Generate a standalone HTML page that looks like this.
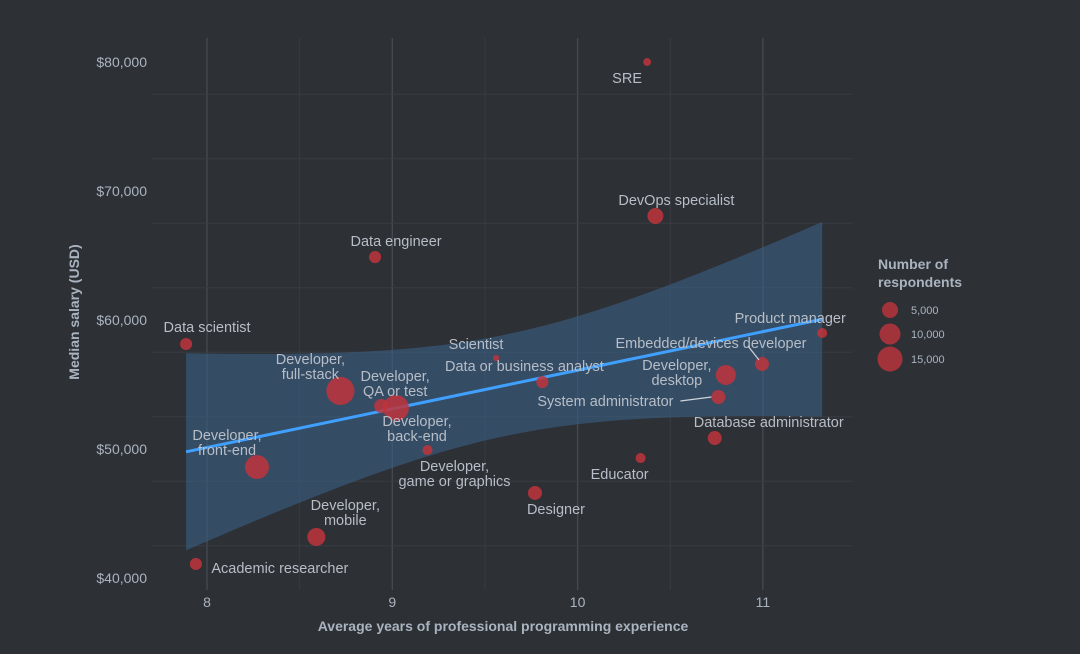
<!DOCTYPE html>
<html><head><meta charset="utf-8"><style>
body{margin:0;background:#2d3035;}
svg{display:block;font-family:"Liberation Sans",sans-serif;}
</style></head><body>
<svg id="chart" width="1080" height="654">
<rect width="1080" height="654" fill="#2d3035"/>
<g id="grid"></g><g id="band"></g><g id="marks"></g><g id="labels"></g><g id="axes"></g>
<g>
<text x="878" y="269" fill="#aab4c0" font-size="14" font-weight="bold">Number of</text>
<text x="878" y="287" fill="#aab4c0" font-size="14" font-weight="bold">respondents</text>
<circle cx="890" cy="310" r="8" fill="#c0343c" fill-opacity="0.8"/>
<text x="911" y="314" fill="#aab4c0" font-size="11">5,000</text>
<circle cx="890" cy="334" r="10.5" fill="#c0343c" fill-opacity="0.8"/>
<text x="911" y="338" fill="#aab4c0" font-size="11">10,000</text>
<circle cx="890" cy="359" r="12.5" fill="#c0343c" fill-opacity="0.8"/>
<text x="911" y="363" fill="#aab4c0" font-size="11">15,000</text>
</g>
</svg>
<script>
const roles=["Data scientist","Data engineer","SRE","DevOps specialist","Scientist","Data or business analyst","Embedded/devices developer","Product manager","Developer,|desktop","System administrator","Database administrator","Educator","Designer","Developer,|game or graphics","Developer,|back-end","Developer,|QA or test","Developer,|full-stack","Developer,|front-end","Developer,|mobile","Academic researcher"];
const years=[7.887,8.907,10.375,10.42,9.56,9.81,10.995,11.32,10.80,10.76,10.74,10.34,9.77,9.19,9.02,8.94,8.72,8.27,8.59,7.94];
const salary=[58140,64880,80000,68060,57050,55190,56590,58990,55740,54030,50850,49300,46590,49920,53180,53330,54500,48600,43180,41090];
const respondents=[3500,3500,1500,6100,900,3500,4700,2400,9600,4700,4700,2400,4700,2400,16000,4700,19000,13800,7800,3500];
const xTicks=[8,9,10,11];
const yTicks=[40000,50000,60000,70000,80000];
const yTickLabels=["$40,000","$50,000","$60,000","$70,000","$80,000"];
const lo=[[21,-12],[21,-11],[-20,21],[21,-11],[-20,-9],[-18,-11],[-51,-16],[-32,-10],[-49,-5],[-113,9],[54,-11],[-21,21],[21,21],[27,21],[21,18],[14,-25],[-30,-27],[-30,-27],[29,-27],[84,9]];
const NS="http://www.w3.org/2000/svg";
const X=v=>207+(v-8)*185.3, Y=v=>62+(80000-v)*0.0129;
function mk(p,t,a){const e=document.createElementNS(NS,t);for(const k in a)e.setAttribute(k,a[k]);document.getElementById(p).appendChild(e);return e;}
for(let v=7.5;v<=11.5;v+=0.5){const x=X(v);if(x<152||x>853)continue;const l=mk('grid','line',{x1:x,x2:x,y1:38,y2:590,stroke:v%1?'#383c43':'#464a51','stroke-width':v%1?1:1.3});

}
for(let v=37500;v<=82500;v+=5000){const y=Y(v);if(y<38||y>590)continue;const l=mk('grid','line',{x1:152,x2:853,y1:y,y2:y,stroke:v%10000?'#383c43':'#464a51','stroke-width':v%10000?1:1.3});

}
xTicks.forEach(v=>{const t=mk('axes','text',{x:X(v),y:607,'text-anchor':'middle',fill:'#aab4c0','font-size':14});t.textContent=v;

});
yTicks.forEach((v,i)=>{const t=mk('axes','text',{x:147,y:Y(v)+5,'text-anchor':'end',fill:'#aab4c0','font-size':14});t.textContent=yTickLabels[i];

});
let t=mk('axes','text',{x:503,y:631,'text-anchor':'middle',fill:'#aab4c0','font-size':14,'font-weight':'bold'});t.textContent='Average years of professional programming experience';


t=mk('axes','text',{x:0,y:0,'text-anchor':'middle',fill:'#aab4c0','font-size':14,'font-weight':'bold',transform:'translate(79,312) rotate(-90)'});t.textContent='Median salary (USD)';


const n=years.length,mx=years.reduce((a,b)=>a+b)/n,my=salary.reduce((a,b)=>a+b)/n;
let sxx=0,sxy=0;years.forEach((x,i)=>{sxx+=(x-mx)**2;sxy+=(x-mx)*(salary[i]-my);});
const b=sxy/sxx,a=my-b*mx;
let sse=0;years.forEach((x,i)=>{sse+=(salary[i]-a-b*x)**2;});
const s=Math.sqrt(sse/(n-2)),tq=2.1;
const x0=Math.min(...years),x1=Math.max(...years);
let up=[],lo2=[];for(let k=0;k<=60;k++){const x=x0+(x1-x0)*k/60,f=a+b*x,h=tq*s*Math.sqrt(1/n+(x-mx)**2/sxx);up.push(X(x)+','+Y(f+h));lo2.unshift(X(x)+','+Y(f-h));}
const band=mk('band','polygon',{points:up.concat(lo2).join(' '),fill:'#3a5f86','fill-opacity':0.6});


const rl=mk('band','line',{x1:X(x0),y1:Y(a+b*x0),x2:X(x1),y2:Y(a+b*x1),stroke:'#3fa0ff','stroke-width':3});


years.forEach((x,i)=>{const cx=X(x),cy=Y(salary[i]);
const c=mk('marks','circle',{cx:cx,cy:cy,r:0.102*Math.sqrt(respondents[i]),fill:'#c0343c','fill-opacity':0.85});


const parts=roles[i].split('|');
parts.forEach((p,j)=>{const tx=mk('labels','text',{x:cx+lo[i][0],y:cy+lo[i][1]+j*15,'text-anchor':'middle',fill:'#b7bec7','font-size':14.5});tx.textContent=p;

});
});
let ll=mk('labels','line',{x1:X(years[6])-14,y1:Y(salary[6])-18,x2:X(years[6])-3,y2:Y(salary[6])-4,stroke:'#d0d4d8','stroke-width':1.2});


ll=mk('labels','line',{x1:X(years[9])-38,y1:Y(salary[9])+4,x2:X(years[9])-7,y2:Y(salary[9]),stroke:'#d0d4d8','stroke-width':1.2});


</script>
</body></html>
